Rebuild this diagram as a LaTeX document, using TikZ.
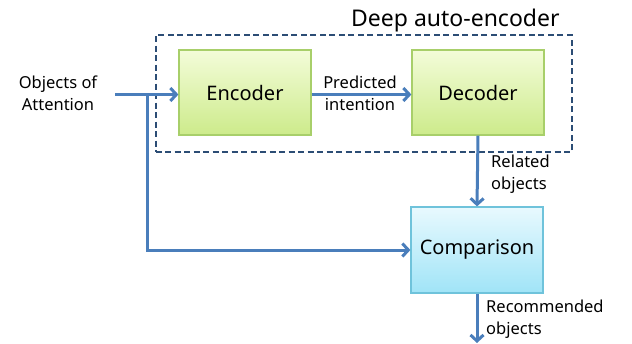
\documentclass[tikz,border=0pt]{standalone}
\usepackage{fontspec}
\setmainfont{Noto Sans}
\usetikzlibrary{arrows.meta,positioning}
\definecolor{arr}{HTML}{4A7EBB}
\definecolor{dash}{HTML}{2C4D75}
\definecolor{gtop}{HTML}{F3FCD9}
\definecolor{gbot}{HTML}{CDEB8B}
\definecolor{gbor}{HTML}{A8CF6A}
\definecolor{btop}{HTML}{E8F9FE}
\definecolor{bbot}{HTML}{A0E4F7}
\definecolor{bbor}{HTML}{6FC3DB}
\begin{document}
\begin{tikzpicture}[x=1pt,y=-1pt,
  gbox/.style={draw=gbor,line width=1.2pt,top color=gtop,bottom color=gbot,minimum width=132pt,minimum height=85pt,inner sep=0pt,font=\fontsize{20}{24}\selectfont},
  bbox/.style={draw=bbor,line width=1.2pt,top color=btop,bottom color=bbot,minimum width=132pt,minimum height=86pt,inner sep=0pt,font=\fontsize{20}{24}\selectfont},
  conn/.style={draw=arr,line width=3pt,-{Straight Barb[length=6pt,width=13pt,line width=3pt]}},
  lbl/.style={font=\fontsize{16.5}{22}\selectfont,align=center,inner sep=0pt},
]
\useasboundingbox (0,0) rectangle (632,343);
\node[draw=dash,line width=2pt,dash pattern=on 6pt off 3.5pt,minimum width=416pt,minimum height=117pt,inner sep=0pt] (ae) at (363.5,93.5) {};
\node[font=\fontsize{23}{26}\selectfont,anchor=base west,inner sep=0pt] (aetitle) at (351,26) {Deep auto-encoder};
\node[gbox] (enc) at (245,92.5) {Encoder};
\node[gbox] (dec) at (478,92.5) {Decoder};
\node[bbox] (cmp) at (477,250) {Comparison};
\node[lbl] (obj) at (58,93) {Objects of\\Attention};
\coordinate (in) at (115,94.5);
\coordinate (split) at (147,94.5);
\coordinate (out) at (477,343);
\draw[conn] (in) -- (enc.west |- in);
\draw[conn] (split) |- (cmp.west);
\draw[conn] (enc.east |- in) -- (dec.west |- in);
\node[lbl] (pi) at (360,93) {Predicted\\intention};
\draw[conn] (dec.south) -- (cmp.north);
\node[lbl,align=left,anchor=west] (rel) at (491,174) {Related\\objects};
\draw[conn] (cmp.south) -- (out);
\node[lbl,align=left,anchor=west] (rec) at (486,319) {Recommended\\objects};
\end{tikzpicture}
\end{document}
